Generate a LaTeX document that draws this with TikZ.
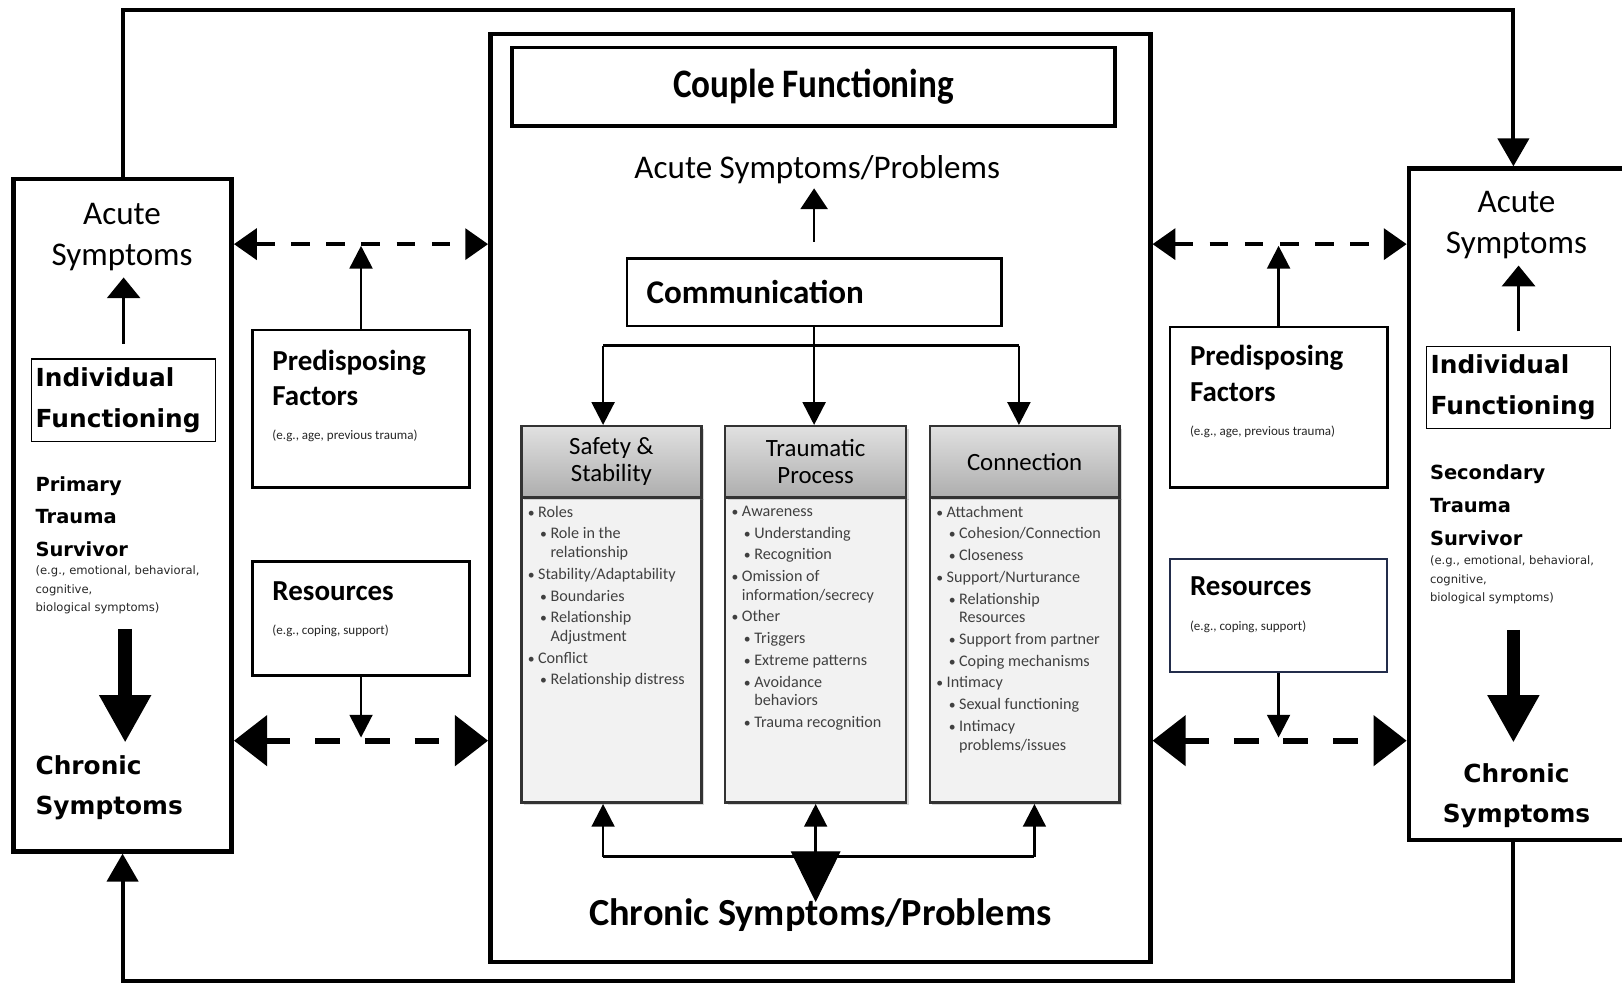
\documentclass[tikz,border=0pt]{standalone}
\usepackage{fontspec}
\setmainfont{Carlito}
\newfontfamily\verd{DejaVu Sans}
\usepackage{graphicx}
\usetikzlibrary{arrows.meta,shadows}
\definecolor{resblue}{RGB}{35,45,75}

% bullet levels for the column lists
\newcommand{\bla}[1]{\makebox[5pt][l]{\scalebox{0.85}{\textbullet}}#1}
\newcommand{\blb}[1]{\hspace*{6pt}\makebox[5pt][l]{\scalebox{0.85}{\textbullet}}#1}
\newcommand{\blc}{\hspace*{11pt}}

\tikzset{
  outerbox/.style={draw, line width=2.2pt, inner sep=0pt},
  infobox/.style={draw, line width=1.3pt, inner sep=0pt, minimum width=105pt},
  indbox/.style={draw, line width=0.6pt, inner xsep=2pt, inner ysep=0pt, text width=85pt,
    align=left, font=\verd\bfseries\fontsize{12}{19.5}\selectfont},
  acutetxt/.style={inner sep=0pt, align=center, font=\fontsize{16}{20}\selectfont},
  survtxt/.style={inner sep=0pt, align=left, font=\verd\bfseries\fontsize{9.4}{15.75}\selectfont},
  egtxt/.style={inner sep=0pt, align=left, text=black!85, font=\verd\fontsize{5.6}{9}\selectfont},
  chrontxt/.style={inner sep=0pt, font=\verd\bfseries\fontsize{12}{19.5}\selectfont},
  predtxt/.style={inner sep=0pt, align=left, font=\bfseries\fontsize{14}{17}\selectfont},
  smalltxt/.style={inner sep=0pt, text=black!85, font=\fontsize{6.3}{8}\selectfont},
  colhead/.style={draw=black!80, line width=1.2pt, top color=black!12, middle color=black!3,
    bottom color=black!32, minimum height=34.5pt, align=center, inner sep=0pt,
    font=\fontsize{12}{13}\selectfont,
    drop shadow={shadow xshift=1.2pt, shadow yshift=-1.2pt, opacity=0.3}},
  colbody/.style={draw=black!80, line width=1.2pt, fill=black!5, minimum height=148pt,
    drop shadow={shadow xshift=1.2pt, shadow yshift=-1.2pt, opacity=0.3}},
  listtxt/.style={inner sep=0pt, align=left, text=black!75, font=\fontsize{7.8}{9}\selectfont},
  thinarr/.style={line width=1.3pt},
  smtip/.style={thinarr, -{Triangle[width=11pt,length=11pt]}},
  uptip/.style={thinarr, -{Triangle[width=16pt,length=10pt]}},
  dashtop/.style={line width=1.6pt, dash pattern=on 9pt off 8pt,
    {Triangle[width=15pt,length=11pt]}-{Triangle[width=15pt,length=11pt]}},
  dashbot/.style={line width=3pt, dash pattern=on 12pt off 12pt,
    {Triangle[width=24pt,length=16pt]}-{Triangle[width=24pt,length=16pt]}},
  bigarr/.style={line width=6.5pt, -{Triangle[width=23.5pt,length=23pt]}},
  loopline/.style={line width=2pt, -{Triangle[width=15pt,length=13.5pt]}}
}

\begin{document}
\begin{tikzpicture}[x=0.5pt, y=-0.5pt]
\path[use as bounding box, fill=white] (0,0) rectangle (1568,953);

% outer boxes
\node[outerbox, minimum width=105.5pt, minimum height=325pt] (lbox) at (118.5,498) {};
\node[outerbox, minimum width=109pt, minimum height=324.5pt] (rbox) at (1471,487.5) {};
\node[outerbox, minimum width=319pt, minimum height=448.5pt] (cbox) at (793,481.5) {};

% left survivor
\node[acutetxt] (lacute) at (118,229) {Acute\\Symptoms};
\node[indbox, minimum height=40pt] (lind) at (119.5,387) {Individual\\Functioning};
\node[survtxt, anchor=west] (lsurv) at (34,499.5) {Primary\\Trauma\\Survivor};
\node[egtxt, anchor=west] (lsurveg) at (34,570.5) {(e.g., emotional, behavioral,\\cognitive,\\biological symptoms)};
\node[chrontxt, anchor=west, align=left] (lchron) at (34,761.5) {Chronic\\Symptoms};
\coordinate (lbigs) at (121,608);
\coordinate (lbige) at (121,718);
\draw[uptip, shorten <=7pt, shorten >=3pt] (lind.north) -- (lind.north |- lacute.south);
\draw[bigarr] (lbigs) -- (lbige);

% right survivor
\node[acutetxt] (racute) at (1466,217.5) {Acute\\Symptoms};
\node[indbox, minimum height=39.5pt] (rind) at (1468,374.5) {Individual\\Functioning};
\node[survtxt, anchor=west] (rsurv) at (1382,488.5) {Secondary\\Trauma\\Survivor};
\node[egtxt, anchor=west] (rsurveg) at (1382,560.5) {(e.g., emotional, behavioral,\\cognitive,\\biological symptoms)};
\node[chrontxt, align=center] (rchron) at (1466,769.5) {Chronic\\Symptoms};
\coordinate (rbigs) at (1463,609);
\coordinate (rbige) at (1463,718);
\draw[uptip, shorten <=7pt, shorten >=3pt] (rind.north) -- (rind.north |- racute.south);
\draw[bigarr] (rbigs) -- (rbige);

% predisposing factors and resources
\node[infobox, minimum height=76pt] (lpre) at (349,395) {};
\node[predtxt, anchor=west] (lpretit) at (263,365) {Predisposing\\Factors};
\node[smalltxt, anchor=west] (lpreeg) at (263,421) {(e.g., age, previous trauma)};
\node[infobox, minimum height=55pt] (lres) at (349,598) {};
\node[predtxt, anchor=west] (lrestit) at (263,572) {Resources};
\node[smalltxt, anchor=west] (lreseg) at (263,610) {(e.g., coping, support)};

\node[infobox, minimum height=77.5pt] (rpre) at (1236,393.5) {};
\node[predtxt, anchor=west] (rpretit) at (1150,361) {Predisposing\\Factors};
\node[smalltxt, anchor=west] (rpreeg) at (1150,417) {(e.g., age, previous trauma)};
\node[infobox, draw=resblue, line width=1pt, minimum height=55pt] (rres) at (1236,595) {};
\node[predtxt, anchor=west] (rrestit) at (1150,567) {Resources};
\node[smalltxt, anchor=west] (rreseg) at (1150,606) {(e.g., coping, support)};

% dashed links
\coordinate (ldtop) at (349,236);
\coordinate (ldbot) at (349,716);
\coordinate (rdtop) at (1236,236);
\coordinate (rdbot) at (1236,716);
\draw[dashtop] (ldtop -| lbox.east) -- (ldtop -| cbox.west);
\draw[dashbot] (ldbot -| lbox.east) -- (ldbot -| cbox.west);
\draw[dashtop] (rdtop -| cbox.east) -- (rdtop -| rbox.west);
\draw[dashbot] (rdbot -| cbox.east) -- (rdbot -| rbox.west);
\draw[smtip, shorten >=0.8pt] (lpre.north) -- (ldtop);
\draw[smtip, shorten >=1.5pt] (lres.south) -- (ldbot);
\draw[smtip, shorten >=0.8pt] (rpre.north) -- (rdtop);
\draw[smtip, shorten >=1.5pt] (rres.south) -- (rdbot);

% couple functioning
\node[draw, line width=1.8pt, minimum width=291.5pt, minimum height=38pt] (couple) at (786.5,84)
  {\scalebox{1}[1.15]{\bfseries\fontsize{17}{20}\selectfont Couple Functioning}};
\node[inner sep=0pt, font=\fontsize{16}{19}\selectfont] (cacute) at (790,164) {Acute Symptoms/Problems};
\node[draw, line width=1.2pt, minimum height=32.5pt, text width=162pt, inner xsep=9.5pt,
  align=left, font=\bfseries\fontsize{16}{19}\selectfont] (comm) at (787,282.5) {Communication};
\draw[thinarr, -{Triangle[width=13pt,length=10pt]}, shorten <=7.5pt, shorten >=2pt]
  (comm.north) -- (comm.north |- cacute.south);

% three columns
\node[colbody, minimum width=87pt] (sab) at (591,628) {};
\node[colhead, minimum width=87pt] (sah) at (591,446.5) {Safety \&\\Stability};
\node[colbody, minimum width=87.5pt] (trb) at (788.5,628) {};
\node[colhead, minimum width=87.5pt] (trh) at (788.5,446.5) {Traumatic\\Process};
\node[colbody, minimum width=91.5pt] (cob) at (990.5,628) {};
\node[colhead, minimum width=91.5pt] (coh) at (990.5,446.5) {Connection};

\node[listtxt, anchor=north west] (salist) at ([xshift=3.5pt,yshift=-5pt]sab.north west) {%
\bla{Roles}\\[1.5pt]
\blb{Role in the}\\
\blc relationship\\[1.5pt]
\bla{Stability/Adaptability}\\[1.5pt]
\blb{Boundaries}\\[1.5pt]
\blb{Relationship}\\
\blc Adjustment\\[1.5pt]
\bla{Conflict}\\[1.5pt]
\blb{Relationship distress}};
\node[listtxt, anchor=north west] (trlist) at ([xshift=3.5pt,yshift=-5pt]trb.north west) {%
\bla{Awareness}\\[1.5pt]
\blb{Understanding}\\[1.5pt]
\blb{Recognition}\\[1.5pt]
\bla{Omission of}\\
\hspace*{5pt}information/secrecy\\[1.5pt]
\bla{Other}\\[1.5pt]
\blb{Triggers}\\[1.5pt]
\blb{Extreme patterns}\\[1.5pt]
\blb{Avoidance}\\
\blc behaviors\\[1.5pt]
\blb{Trauma recognition}};
\node[listtxt, anchor=north west] (colist) at ([xshift=3.5pt,yshift=-5pt]cob.north west) {%
\bla{Attachment}\\[1.5pt]
\blb{Cohesion/Connection}\\[1.5pt]
\blb{Closeness}\\[1.5pt]
\bla{Support/Nurturance}\\[1.5pt]
\blb{Relationship}\\
\blc Resources\\[1.5pt]
\blb{Support from partner}\\[1.5pt]
\blb{Coping mechanisms}\\[1.5pt]
\bla{Intimacy}\\[1.5pt]
\blb{Sexual functioning}\\[1.5pt]
\blb{Intimacy}\\
\blc problems/issues};

% communication to columns
\coordinate (cjl) at (583,334);
\coordinate (cjr) at (985,334);
\draw[thinarr] (cjl) -- (cjr);
\draw[smtip] (comm.south) -- (comm.south |- trh.north);
\draw[smtip] (cjl) -- (cjl |- sah.north);
\draw[smtip] (cjr) -- (cjr |- coh.north);

% columns to chronic problems
\coordinate (bjl) at (583,828);
\coordinate (bjr) at (1000,828);
\coordinate (chtop) at (788.5,822);
\coordinate (chtip) at (788.5,872);
\draw[thinarr] (bjl) -- (bjr);
\draw[smtip] (bjl) -- (bjl |- sab.south);
\draw[smtip] (bjl -| trb.south) -- (trb.south);
\draw[smtip] (bjr) -- (bjr |- cob.south);
\draw[line width=0.5pt, -{Triangle[width=24pt,length=24.5pt]}] (chtop) -- (chtip);
\node[inner sep=0pt, font=\bfseries\fontsize{18.5}{22}\selectfont] (cchron) at (793,885) {Chronic Symptoms/Problems};

% feedback loop between the partners
\coordinate (looptop) at (1463,10);
\coordinate (loopbot) at (1463,948);
\draw[loopline] (lbox.north) |- (looptop) -- (looptop |- rbox.north);
\draw[loopline] (loopbot |- rbox.south) -- (loopbot) -| (lbox.south);
\end{tikzpicture}
\end{document}
